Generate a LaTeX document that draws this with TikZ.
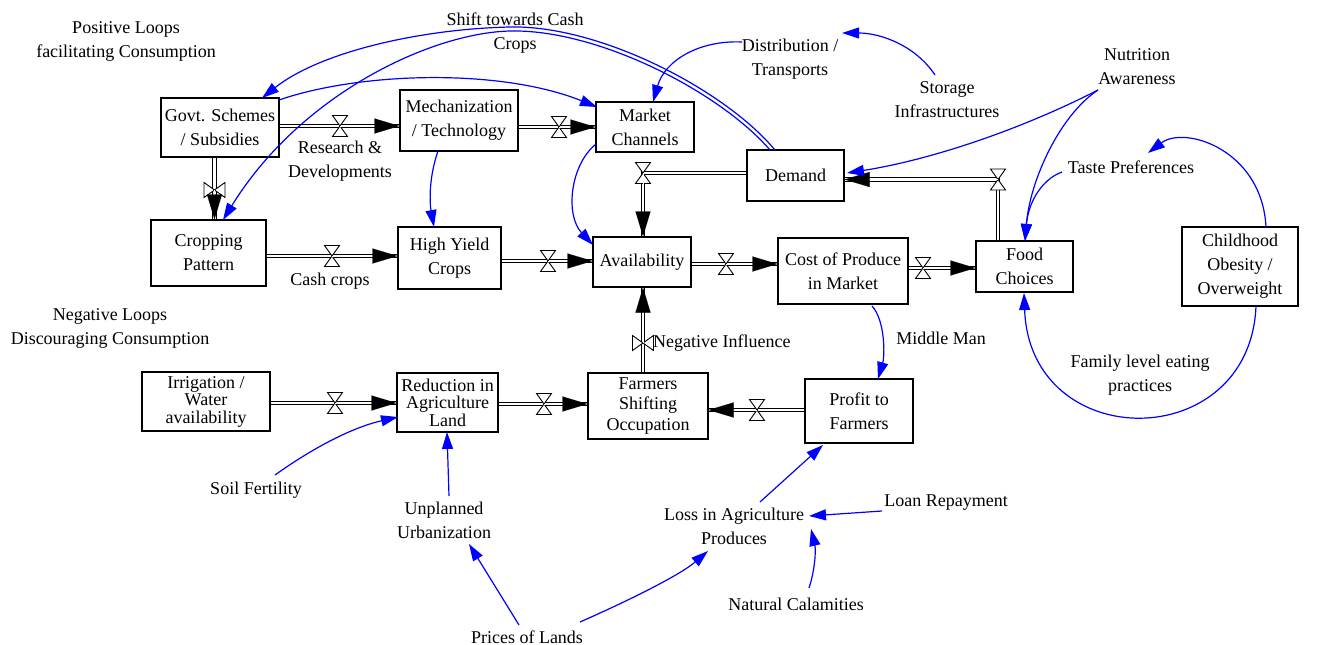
\documentclass[tikz,border=0pt]{standalone}
\usepackage{fontspec}
\setmainfont{Liberation Serif}
\usetikzlibrary{arrows.meta}

\tikzset{
  txt/.style={font=\fontsize{18}{24}\selectfont, align=center, inner sep=0pt},
  tighttxt/.style={font=\fontsize{18}{17.5}\selectfont, align=center, inner sep=0pt},
  box/.style={draw=black, line width=1.1pt, inner sep=0pt},
  pipe/.style={draw=black, line width=1.1pt, double=white, double distance=2.6pt},
  flowtip/.style={draw=white, line width=0.1pt, -{Triangle[length=25pt,width=15pt,color=black]}},
  link/.style={draw=blue, line width=1.2pt, -{Triangle[length=17pt,width=11pt]}},
  valveh/.pic={\draw[line width=0.9pt, fill=white] (-7.5,-10.5) -- (7.5,-10.5) -- (-7.5,10.5) -- (7.5,10.5) -- cycle;},
  valvev/.pic={\draw[line width=0.9pt, fill=white] (-10.5,-7.5) -- (-10.5,7.5) -- (10.5,-7.5) -- (10.5,7.5) -- cycle;}
}

\begin{document}
\begin{tikzpicture}[x=1pt,y=-1pt]
\useasboundingbox (0,0) rectangle (1318,645);

% ---- stock boxes ----
\node[box,txt,minimum width=118pt,minimum height=59pt] (govt) at (220,127.5) {Govt. Schemes\\/ Subsidies};
\node[box,txt,minimum width=118pt,minimum height=61pt] (mech) at (459,120.5) {Mechanization\\/ Technology};
\node[box,txt,minimum width=98pt,minimum height=50pt] (market) at (645,127) {Market\\Channels};
\node[box,txt,minimum width=97pt,minimum height=51pt] (demand) at (795.5,175.5) {Demand};
\node[box,txt,minimum width=115pt,minimum height=66pt] (crop) at (208.5,253) {Cropping\\Pattern};
\node[box,txt,minimum width=103pt,minimum height=62pt] (hyc) at (449.5,258) {High Yield\\Crops};
\node[box,txt,minimum width=98pt,minimum height=50pt] (avail) at (642,262) {Availability};
\node[box,txt,minimum width=130pt,minimum height=66pt] (cost) at (843,271) {Cost of Produce\\in Market};
\node[box,txt,minimum width=97pt,minimum height=51pt] (food) at (1024.5,266.5) {Food\\Choices};
\node[box,txt,minimum width=116pt,minimum height=79pt] (child) at (1240,266.5) {Childhood\\Obesity /\\Overweight};
\node[box,tighttxt,minimum width=128pt,minimum height=59pt] (irrig) at (206,401.5) {Irrigation /\\Water\\availability};
\node[box,tighttxt,minimum width=101pt,minimum height=59pt] (reduc) at (447.5,402.5) {Reduction in\\Agriculture\\Land};
\node[box,font=\fontsize{18}{20.5}\selectfont,align=center,minimum width=120pt,minimum height=66pt] (farm) at (648,406) {Farmers\\Shifting\\Occupation};
\node[box,txt,minimum width=108pt,minimum height=64pt] (profit) at (859,411) {Profit to\\Farmers};

% ---- free labels ----
\node[txt] (poslab) at (126,41) {Positive Loops\\facilitating Consumption};
\node[txt] (neglab) at (110,328) {Negative Loops\\Discouraging Consumption};
\node[txt] (shift) at (515,33) {Shift towards Cash\\Crops};
\node[txt] (dist) at (790,59.5) {Distribution /\\Transports};
\node[txt] (stor) at (947,100) {Storage\\Infrastructures};
\node[txt] (nutr) at (1137,67) {Nutrition\\Awareness};
\node[txt] (taste) at (1131,167) {Taste Preferences};
\node[txt] (rnd) at (340,161) {Research \&\\Developments};
\node[txt] (cash) at (330,281) {Cash crops};
\node[txt] (mid) at (941,338) {Middle Man};
\node[txt,anchor=west] (neginf) at (653,343) {Negative Influence};
\node[txt] (family) at (1140,375) {Family level eating\\practices};
\node[txt] (soil) at (256,490) {Soil Fertility};
\node[txt] (unpl) at (444,520) {Unplanned\\Urbanization};
\node[txt] (loss) at (734,526) {Loss in Agriculture\\Produces};
\node[txt] (loan) at (946,503) {Loan Repayment};
\node[txt] (natur) at (796,604) {Natural Calamities};
\node[txt] (prices) at (527,637) {Prices of Lands};

% ---- valve positions ----
\coordinate (v1) at (340,126);
\coordinate (v2) at (559,127);
\coordinate (v3) at (332,256);
\coordinate (v4) at (548,261);
\coordinate (v5) at (726,264);
\coordinate (v6) at (923,268);
\coordinate (v7) at (643,173);
\coordinate (v8) at (998,179.5);
\coordinate (v9) at (643,343);
\coordinate (v10) at (335,403);
\coordinate (v11) at (544,404);
\coordinate (v12) at (757,410);
\coordinate (v13) at (214.5,190);

% ---- flows ----
\draw[pipe] (govt.east |- v1) -- (mech.west |- v1);
\pic at (v1) {valveh};
\draw[flowtip] (v1) -- (mech.west |- v1);

\draw[pipe] (mech.east |- v2) -- (market.west |- v2);
\pic at (v2) {valveh};
\draw[flowtip] (v2) -- (market.west |- v2);

\draw[pipe] (crop.east |- v3) -- (hyc.west |- v3);
\pic at (v3) {valveh};
\draw[flowtip] (v3) -- (hyc.west |- v3);

\draw[pipe] (hyc.east |- v4) -- (avail.west |- v4);
\pic at (v4) {valveh};
\draw[flowtip] (v4) -- (avail.west |- v4);

\draw[pipe] (avail.east |- v5) -- (cost.west |- v5);
\pic at (v5) {valveh};
\draw[flowtip] (v5) -- (cost.west |- v5);

\draw[pipe] (cost.east |- v6) -- (food.west |- v6);
\pic at (v6) {valveh};
\draw[flowtip] (v6) -- (food.west |- v6);

\draw[pipe] (demand.west |- v7) -- (v7) -- (avail.north -| v7);
\pic at (v7) {valveh};
\draw[flowtip] (v7) -- (avail.north -| v7);

\draw[pipe] (food.north -| v8) -- (v8) -- (demand.east |- v8);
\pic at (v8) {valveh};
\draw[flowtip] (v8) -- (demand.east |- v8);

\draw[pipe] (farm.north -| v9) -- (avail.south -| v9);
\pic at (v9) {valvev};
\draw[flowtip] (v9) -- (avail.south -| v9);

\draw[pipe] (irrig.east |- v10) -- (reduc.west |- v10);
\pic at (v10) {valveh};
\draw[flowtip] (v10) -- (reduc.west |- v10);

\draw[pipe] (reduc.east |- v11) -- (farm.west |- v11);
\pic at (v11) {valveh};
\draw[flowtip] (v11) -- (farm.west |- v11);

\draw[pipe] (profit.west |- v12) -- (farm.east |- v12);
\pic at (v12) {valveh};
\draw[flowtip] (v12) -- (farm.east |- v12);

\draw[pipe] (govt.south -| v13) -- (crop.north -| v13);
\pic at (v13) {valvev};
\draw[flowtip] (v13) -- (crop.north -| v13);

% ---- causal links ----
\draw[link] ([shift={(-20.5,-25.5)}]demand.center) .. controls +(-50,-60) and +(90,-2) .. (510,27)
  .. controls +(-90,2) and +(58,-46) .. ([shift={(42,-29.5)}]govt.center);
\draw[link] ([shift={(-25.5,-25.5)}]demand.center) .. controls +(-50,-58) and +(88,-2) .. (510,31)
  .. controls +(-80,2) and +(77,-125) .. ([shift={(14.5,-33)}]crop.center);
\draw[link] ([shift={(59,-27.5)}]govt.center) .. controls +(81,-28) and +(-97,-39) .. ([shift={(-48,-20)}]market.center);
\draw[link] ([shift={(-21,30.5)}]mech.center) .. controls +(-10,29) and +(-4,-22) .. ([shift={(-15.5,-31)}]hyc.center);
\draw[link] ([shift={(-49,17)}]market.center) .. controls +(-26,21) and +(-28,-30) .. ([shift={(-49,-17)}]avail.center);
\draw[link] ([shift={(-48,-17.5)}]dist.center) .. controls +(-42,-2) and +(12,-42) .. ([shift={(8,-25)}]market.center);
\draw[link] ([shift={(-12,-25)}]stor.center) .. controls +(-20,-30) and +(38,0) .. ([shift={(52,-26.5)}]dist.center);
\draw[link] ([shift={(-39,23)}]nutr.center) .. controls +(-78,40) and +(83,-13) .. ([shift={(51.5,-2.5)}]demand.center);
\draw[link] ([shift={(-39,23)}]nutr.center) .. controls +(-38,25) and +(5,-61) .. ([shift={(0.5,-25.5)}]food.center);
\draw[link] ([shift={(-69,5)}]taste.center) .. controls +(-22,8) and +(3,-36) .. ([shift={(0.5,-25.5)}]food.center);
\draw[link] ([shift={(26,-39.5)}]child.center) .. controls +(-4,-77) and +(37,-28) .. ([shift={(17,-14)}]taste.center);
\draw[link] ([shift={(16,39.5)}]child.center) .. controls +(-6,149) and +(6,162) .. ([shift={(-0.5,26.5)}]food.center);
\draw[link] ([shift={(29,35)}]cost.center) .. controls +(13,14) and +(7,-24) .. ([shift={(19,-32)}]profit.center);
\draw[link] ([shift={(19,-15)}]soil.center) .. controls +(35,-25) and +(-48,11) .. ([shift={(-49.5,14.5)}]reduc.center);
\draw[link] ([shift={(5,-24)}]unpl.center) -- ([shift={(-0.5,29.5)}]reduc.center);
\draw[link] ([shift={(-8,-12)}]prices.center) -- ([shift={(25,24)}]unpl.center);
\draw[link] ([shift={(53,-15)}]prices.center) .. controls +(50,-22) and +(-28,24) .. ([shift={(-26,25)}]loss.center);
\draw[link] ([shift={(26,-24)}]loss.center) -- ([shift={(-36,34)}]profit.center);
\draw[link] ([shift={(-64,8)}]loan.center) -- ([shift={(75,-10)}]loss.center);
\draw[link] ([shift={(13,-16)}]natur.center) .. controls +(6,-18) and +(5,21) .. ([shift={(77,3)}]loss.center);

\end{tikzpicture}
\end{document}
